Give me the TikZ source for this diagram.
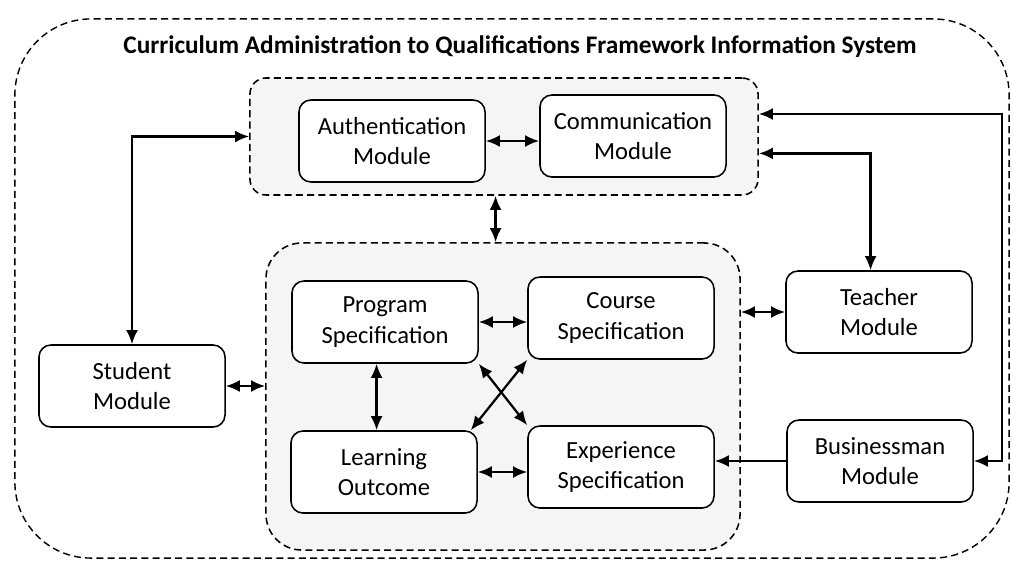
\documentclass[tikz,border=0pt]{standalone}
\usepackage{fontspec}
\setmainfont{Carlito}
\usetikzlibrary{arrows.meta}
\begin{document}
\begin{tikzpicture}[x=0.025cm,y=-0.025cm,
mod/.style={draw,rounded corners=0.3cm,fill=white,line width=1.1pt,minimum width=4.65cm,minimum height=2.05cm,align=center,font=\fontsize{17.5}{21.5}\selectfont},
grp/.style={draw,dash pattern=on 5pt off 3pt,line width=1.1pt,fill=black!4},
dbl/.style={{Latex[length=10pt,width=8.5pt]}-{Latex[length=10pt,width=8.5pt]},line width=1.6pt},
one/.style={-{Latex[length=10pt,width=8.5pt]},line width=1.6pt}]
\useasboundingbox (0,0) rectangle (1012,565);
\node[draw,dash pattern=on 5pt off 3pt,line width=1pt,rounded corners=1.9cm,minimum width=24.85cm,minimum height=13.475cm] (outer) at (512,288.5) {};
\node[font=\bfseries\fontsize{18}{20}\selectfont] (title) at (520,47) {Curriculum Administration to Qualifications Framework Information System};
% groups
\node[grp,rounded corners=0.4cm,minimum width=12.7cm,minimum height=2.925cm] (top) at (504,136.5) {};
\node[grp,rounded corners=0.9cm,minimum width=11.85cm,minimum height=7.675cm] (low) at (503,396.5) {};
% modules
\node[mod] (auth) at (392,141) {Authentication\\Module};
\node[mod] (comm) at (633,136) {Communication\\Module};
\node[mod] (prog) at (385,322) {Program\\Specification};
\node[mod] (course) at (621,318) {Course\\Specification};
\node[mod] (learn) at (384,472) {Learning\\Outcome};
\node[mod] (exper) at (621,467) {Experience\\Specification};
\node[mod] (student) at (132,386) {Student\\Module};
\node[mod] (teacher) at (879,312) {Teacher\\Module};
\node[mod] (business) at (880,461) {Businessman\\Module};
\coordinate (rline) at (1002,300);
% connectors
\draw[dbl] (auth.east) -- (auth.east -| comm.west);
\draw[dbl] ([xshift=-6pt]top.south) -- ([xshift=-6pt]top.south |- low.north);
\draw[dbl] (prog.east) -- (prog.east -| course.west);
\draw[dbl] (learn.east) -- (learn.east -| exper.west);
\draw[dbl] ([xshift=-6pt]prog.south) -- ([xshift=-6pt]prog.south |- learn.north);
\draw[dbl] (prog.south east) -- (exper.north west);
\draw[dbl] (course.south west) -- ([xshift=-5pt]learn.north east);
\draw[dbl] (student.east) -- (student.east -| low.west);
\draw[dbl] (student.north) |- (top.west);
\draw[dbl] (teacher.east -| low.east) -- (teacher.west);
\draw[dbl] ([xshift=-6pt]teacher.north) |- ([yshift=-12pt]top.east);
\draw[dbl] (business.east) -| (rline) |- ([yshift=16pt]top.east);
\draw[one] (business.west) -- (business.west -| exper.east);
\end{tikzpicture}
\end{document}
